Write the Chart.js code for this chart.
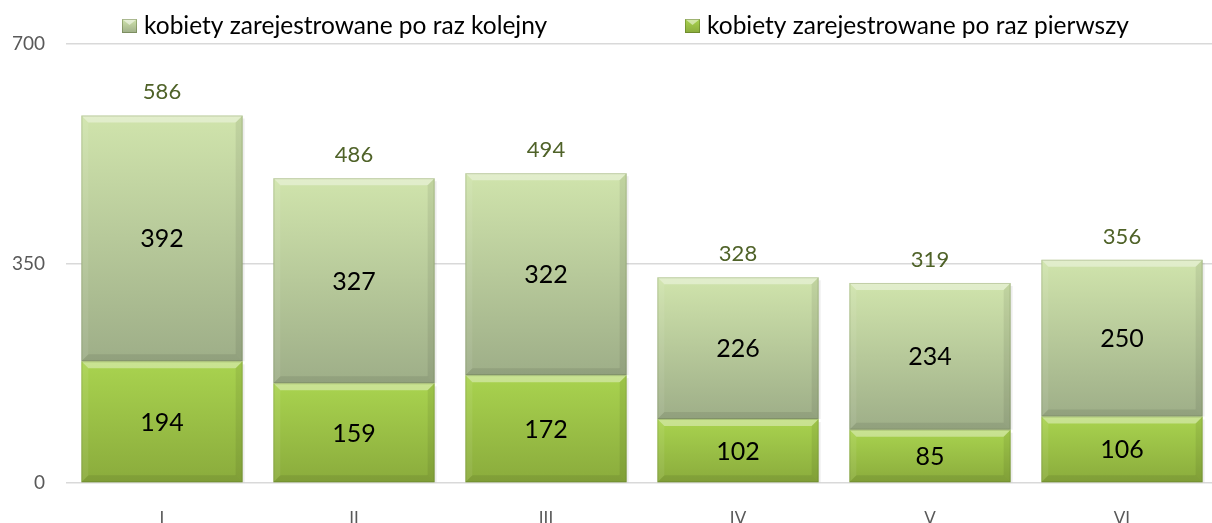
<!DOCTYPE html>
<html>
<head>
<meta charset="utf-8">
<script src="https://cdn.jsdelivr.net/npm/chart.js@4.4.0/dist/chart.umd.min.js"></script>
<style>
  html, body { margin: 0; padding: 0; background: #ffffff; overflow: hidden; }
  #wrap { position: relative; width: 1218px; height: 523px; }
</style>
</head>
<body>
<div id="wrap"><canvas id="c"></canvas></div>
<script>
// ---- data ----
const categories = ['I', 'II', 'III', 'IV', 'V', 'VI'];
const firstTime = [194, 159, 172, 102, 85, 106];
const repeated = [392, 327, 322, 226, 234, 250];
const totals = [586, 486, 494, 328, 319, 356];
const yTicks = [0, 350, 700];
const seriesNames = ['kobiety zarejestrowane po raz pierwszy', 'kobiety zarejestrowane po raz kolejny'];

const FONT = 'Lato, "Open Sans", sans-serif';

const palettes = [
  { top: '#a9d34f', bottom: '#8aab3c' },   // pierwszy
  { top: '#d0e4ac', bottom: '#9eae88' }    // kolejny
];

function barGradient(ctx) {
  const chart = ctx.chart;
  const pal = palettes[ctx.datasetIndex];
  const ys = chart.scales && chart.scales.y;
  if (!ys || !chart.chartArea || ctx.dataIndex === undefined) return pal.top;
  const i = ctx.dataIndex;
  const lo = ctx.datasetIndex === 0 ? 0 : firstTime[i];
  const hi = ctx.datasetIndex === 0 ? firstTime[i] : totals[i];
  const yTop = ys.getPixelForValue(hi);
  const yBot = ys.getPixelForValue(lo);
  if (!isFinite(yTop) || !isFinite(yBot) || yTop === yBot) return pal.top;
  const g = chart.ctx.createLinearGradient(0, yTop, 0, yBot);
  g.addColorStop(0, pal.top);
  g.addColorStop(1, pal.bottom);
  return g;
}

const bevelPlugin = {
  id: 'bevel',
  afterDatasetsDraw(chart) {
    const c = chart.ctx;
    c.save();
    chart.data.datasets.forEach((ds, di) => {
      const meta = chart.getDatasetMeta(di);
      meta.data.forEach((el) => {
        const p = el.getProps(['x', 'y', 'base', 'width'], true);
        const l = p.x - p.width / 2, r = p.x + p.width / 2;
        const t = Math.min(p.y, p.base), b = Math.max(p.y, p.base);
        const k = Math.min(7, (b - t) / 2);
        const poly = (pts, col) => {
          c.beginPath();
          c.moveTo(pts[0][0], pts[0][1]);
          for (let j = 1; j < pts.length; j++) c.lineTo(pts[j][0], pts[j][1]);
          c.closePath();
          c.fillStyle = col;
          c.fill();
        };
        // soft shadow on right
        c.fillStyle = 'rgba(0,0,0,0.07)';
        c.fillRect(r, t + 3, 2, b - t - 3);
        // top highlight
        poly([[l, t], [r, t], [r - k, t + k], [l + k, t + k]], 'rgba(255,255,255,0.38)');
        // left
        poly([[l, t], [l + k, t + k], [l + k, b - k], [l, b]], 'rgba(255,255,255,0.07)');
        // right
        poly([[r, t], [r - k, t + k], [r - k, b - k], [r, b]], 'rgba(0,0,0,0.07)');
        // bottom
        poly([[l, b], [l + k, b - k], [r - k, b - k], [r, b]], 'rgba(0,0,0,0.08)');
        // edge line
        c.strokeStyle = 'rgba(70,90,30,0.22)';
        c.lineWidth = 1;
        c.strokeRect(l + 0.5, t + 0.5, p.width - 1, b - t - 1);
      });
    });
    c.restore();
  }
};

const labelPlugin = {
  id: 'labels',
  afterDatasetsDraw(chart) {
    const c = chart.ctx;
    c.save();
    c.textAlign = 'center';
    c.textBaseline = 'middle';
    c.fillStyle = '#000000';
    c.font = '25px ' + FONT;
    chart.data.datasets.forEach((ds, di) => {
      const meta = chart.getDatasetMeta(di);
      meta.data.forEach((el, i) => {
        const p = el.getProps(['x', 'y', 'base'], true);
        c.fillText(String(ds.data[i]), p.x, (p.y + p.base) / 2 + 1);
      });
    });
    const top = chart.getDatasetMeta(1);
    c.fillStyle = '#4f6228';
    c.font = '22px ' + FONT;
    c.textBaseline = 'alphabetic';
    top.data.forEach((el, i) => {
      const p = el.getProps(['x', 'y'], true);
      c.fillText(String(totals[i]), p.x, p.y - 16);
    });
    c.restore();
  }
};

const legendPlugin = {
  id: 'customLegend',
  afterDraw(chart) {
    const c = chart.ctx;
    c.save();
    c.font = '24.5px ' + FONT;
    c.textBaseline = 'middle';
    c.textAlign = 'left';
    const order = [1, 0];
    const starts = [122, 685];
    order.forEach((di, n) => {
      const x = starts[n];
      const y = 19;
      const g = c.createLinearGradient(0, y, 0, y + 14);
      g.addColorStop(0, palettes[di].top);
      g.addColorStop(1, palettes[di].bottom);
      c.fillStyle = g;
      c.fillRect(x, y, 15, 14);
      c.fillStyle = 'rgba(255,255,255,0.5)';
      c.beginPath(); c.moveTo(x, y); c.lineTo(x + 15, y); c.lineTo(x + 7.5, y + 6); c.closePath(); c.fill();
      c.strokeStyle = 'rgba(60,80,20,0.35)';
      c.strokeRect(x + 0.5, y + 0.5, 14, 13);
      c.fillStyle = '#000000';
      c.fillText(seriesNames[di], x + 22, 26);
    });
    c.restore();
  }
};

new Chart(document.getElementById('c'), {
  type: 'bar',
  data: {
    labels: categories,
    datasets: [
      { label: seriesNames[0], data: firstTime, backgroundColor: barGradient, borderWidth: 0 },
      { label: seriesNames[1], data: repeated, backgroundColor: barGradient, borderWidth: 0 }
    ]
  },
  plugins: [bevelPlugin, labelPlugin, legendPlugin],
  options: {
    responsive: true,
    maintainAspectRatio: false,
    animation: false,
    barPercentage: 0.84,
    categoryPercentage: 1.0,
    layout: { padding: { top: 44, left: 0, right: 0, bottom: 0 } },
    plugins: { legend: { display: false }, tooltip: { enabled: false } },
    scales: {
      x: {
        stacked: true,
        grid: { display: false },
        border: { display: false },
        ticks: { color: '#595959', font: { family: FONT, size: 17 }, padding: 17 },
        afterFit(s) { s.height = 40; }
      },
      y: {
        stacked: true,
        min: 0,
        max: 700,
        afterBuildTicks(s) { s.ticks = yTicks.map(v => ({ value: v })); },
        grid: { color: '#d9d9d9', lineWidth: 1.5, drawTicks: false },
        border: { display: false },
        ticks: { color: '#595959', font: { family: FONT, size: 19 }, padding: 21 },
        afterFit(s) { s.width = 66; }
      }
    }
  }
});
</script>
</body>
</html>
